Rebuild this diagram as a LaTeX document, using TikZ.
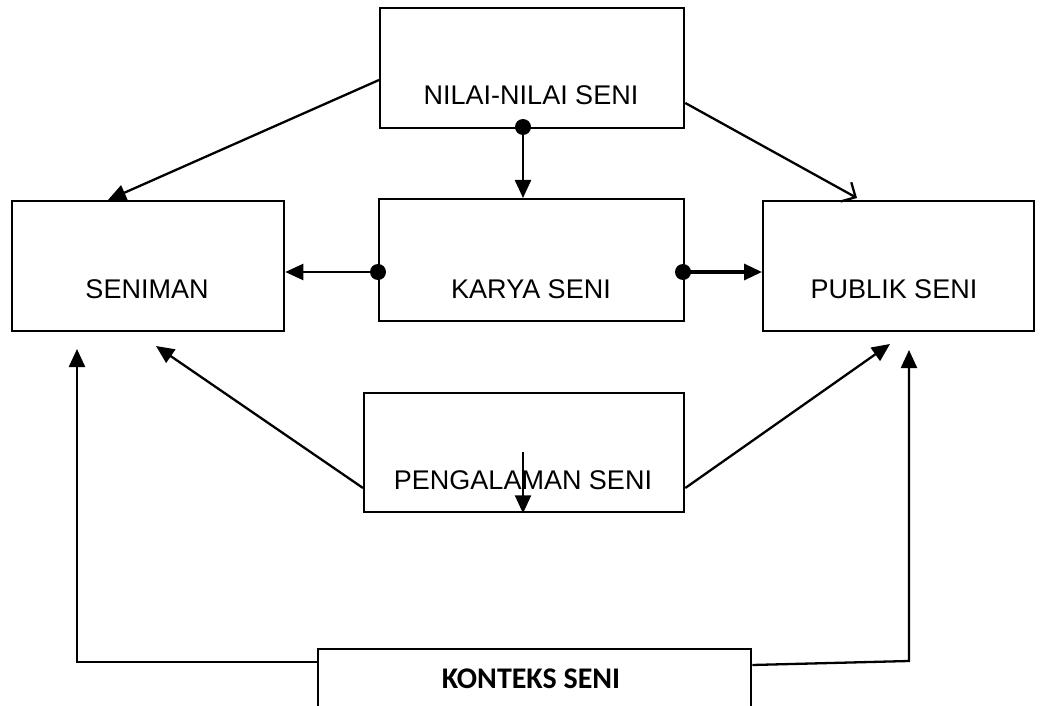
\documentclass[tikz,border=0pt]{standalone}
\usepackage{fontspec}
\setmainfont{Liberation Sans}
\newfontfamily\calfont{Carlito}
\usetikzlibrary{arrows.meta,calc}
\begin{document}
\begin{tikzpicture}[x=1pt,y=-1pt,
  box/.style={draw,line width=2.3pt,rectangle,anchor=north west,inner sep=0pt},
  lbl/.style={anchor=base,inner sep=0pt,font=\fontsize{27}{31}\selectfont},
  conn/.style={line width=2.3pt,-{Triangle[length=18pt,width=16pt]}},
  openarr/.style={line width=2.3pt,-{Straight Barb[length=11pt,width=22pt,line width=2.3pt]}},
  dotc/.style={fill=black}
]
\useasboundingbox (0,0) rectangle (1042,706);
% boxes
\node[box,minimum width=304pt,minimum height=120pt] (nilai) at (379,7) {};
\node[box,minimum width=272pt,minimum height=130pt] (seniman) at (11,200) {};
\node[box,minimum width=305pt,minimum height=122pt] (karya) at (378,198) {};
\node[box,minimum width=271pt,minimum height=130pt] (publik) at (762,200) {};
\node[box,minimum width=320pt,minimum height=119pt] (pengalaman) at (363,392) {};
\node[box,minimum width=433pt,minimum height=100pt] (konteks) at (317,648) {};
% labels
\node[lbl] (nilaitxt) at (531,105) {NILAI-NILAI SENI};
\node[lbl] (senimantxt) at (147,298) {SENIMAN};
\node[lbl] (karyatxt) at (531,298) {KARYA SENI};
\node[lbl] (publiktxt) at (894,298) {PUBLIK SENI};
\node[lbl] (pengalamantxt) at (523,489) {PENGALAMAN SENI};
\node[anchor=base,inner sep=0pt,font=\calfont\bfseries\fontsize{30}{33}\selectfont] (kontekstxt) at (531,688) {KONTEKS SENI};
% free coordinates
\coordinate (senTop) at (108,200);
\coordinate (pubTop) at (857,198);
\coordinate (senBelowL) at (77,349);
\coordinate (senBelowR) at (156,346);
\coordinate (pubBelowL) at (890,344);
\coordinate (pubBelowR) at (909,350);
\coordinate (leftCorner) at (77,662);
\coordinate (rightCorner) at (909,661);
\coordinate (pgTop) at (523,452);
\coordinate (d1) at (523,127);
\coordinate (d2) at (378,272);
\coordinate (d3) at (683,272);
% connectors
\draw[conn] (nilai.west |- 0,80) -- (senTop);
\draw[openarr] (nilai.east |- 0,103) -- (pubTop);
\draw[conn] (d1) -- (karya.north -| d1);
\draw[conn] (d2) -- (seniman.east |- d2);
\draw[line width=3.3pt,-{Triangle[length=18pt,width=16pt]}] (d3) -- (publik.west |- d3);
\fill[dotc] (d1) circle (8pt);
\fill[dotc] (d2) circle (8pt);
\fill[dotc] (d3) circle (8pt);
\draw[conn] (pengalaman.west |- 0,488) -- (senBelowR);
\draw[conn] (pengalaman.east |- 0,488) -- (pubBelowL);
\draw[conn] (konteks.west |- 0,662) -- (leftCorner) -- (senBelowL);
\draw[conn] (konteks.east |- 0,665) -- (rightCorner) -- (pubBelowR);
\draw[conn] (pgTop) -- (pengalaman.south -| pgTop);
\end{tikzpicture}
\end{document}
